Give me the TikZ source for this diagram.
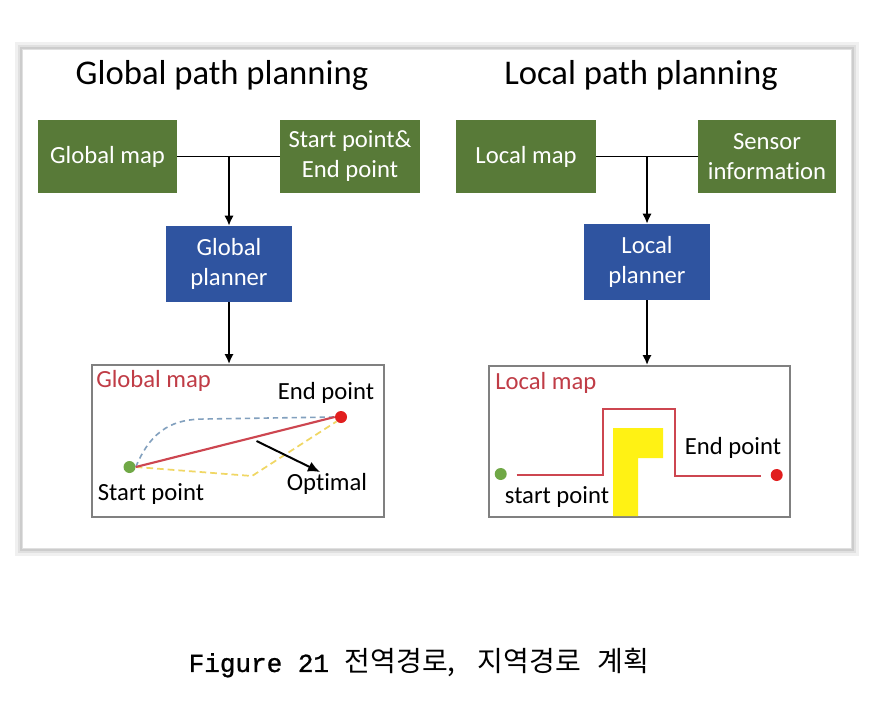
\documentclass[tikz,border=0pt]{standalone}
\usepackage{fontspec}
\setmainfont{Carlito}[Ligatures={NoCommon}]
\newfontfamily\capmono{Liberation Mono}[FakeBold=1]
\newfontfamily\cjkfont{Noto Sans CJK KR}
\usetikzlibrary{arrows.meta}
\definecolor{boxgreen}{RGB}{88,122,56}
\definecolor{boxblue}{RGB}{47,84,160}
\definecolor{maplabel}{RGB}{192,60,70}
\definecolor{pathred}{RGB}{205,70,80}
\definecolor{dotgreen}{RGB}{112,168,70}
\definecolor{dotred}{RGB}{225,30,30}
\definecolor{dashblue}{RGB}{130,160,190}
\definecolor{dashyellow}{RGB}{240,215,100}
\definecolor{obstacle}{RGB}{255,242,20}
\begin{document}
\begin{tikzpicture}[x=0.75pt,y=-0.75pt,
  boxtext/.style={font=\fontsize{18.5}{22.5}\selectfont},
  inbox/.style={boxtext, fill=boxgreen, text=white, align=center, inner sep=0pt, minimum height=73*0.75pt},
  planbox/.style={boxtext, fill=boxblue, text=white, align=center, inner sep=0pt, minimum width=126*0.75pt, minimum height=76*0.75pt},
  mapbox/.style={draw=black!50, line width=1.5pt, fill=white, inner sep=0pt},
  title/.style={font=\fontsize{26}{30}\selectfont},
  lbl/.style={boxtext, inner sep=0pt},
  conn/.style={line width=1.4pt, black},
  arr/.style={conn, -{Latex[length=7.5pt,width=7pt]}},
  dot/.style={circle, inner sep=0pt, minimum size=9pt},
]
\useasboundingbox (0,0) rectangle (880,710);
\fill[white] (0,0) rectangle (880,710);
% outer frame with soft shadow
\draw[black!6, line width=9pt] (21,48) rectangle (853,550);
\draw[black!12, line width=5pt] (21,48) rectangle (853,550);
\draw[black!20, line width=2pt] (21,48) rectangle (853,550);
\fill[white] (23,50) rectangle (851,548);

% titles
\node[title] (gtitle) at (222,75) {Global path planning};
\node[title] (ltitle) at (641,75) {Local path planning};

% top boxes
\node[inbox, minimum width=139*0.75pt] (gmap) at (107.5,156.5) {Global map};
\node[inbox, minimum width=140*0.75pt] (sepnt) at (350,156.5) {Start point\&\\End point};
\node[inbox, minimum width=140*0.75pt] (lmap) at (526,156.5) {Local map};
\node[inbox, minimum width=138*0.75pt] (sensor) at (767,156.5) {Sensor\\information};

% planners
\node[planbox] (gplan) at (229,264) {Global\\planner};
\node[planbox] (lplan) at (647,262) {Local\\planner};

% map boxes
\node[mapbox, minimum width=292*0.75pt, minimum height=152*0.75pt] (gbox) at (238,441) {};
\node[mapbox, minimum width=301*0.75pt, minimum height=151*0.75pt] (lbox) at (639.5,441.5) {};

% connectors
\coordinate (gj) at (gplan.north |- gmap.east);
\coordinate (lj) at (lplan.north |- lmap.east);
\draw[conn] (gmap.east) -- (sepnt.west);
\draw[arr] (gj) -- (gplan.north);
\draw[arr] (gplan.south) -- (gplan.south |- gbox.north);
\draw[conn] (lmap.east) -- (sensor.west);
\draw[arr] (lj) -- (lplan.north);
\draw[arr] (lplan.south) -- (lplan.south |- lbox.north);

% ---- global map content
\node[lbl, text=maplabel, anchor=west] (glabel) at (96,381) {Global map};
\node[dot, fill=dotred] (gend) at (341,417) {};
\node[dot, fill=dotgreen] (gstart) at (129.5,467) {};
\node[lbl] (gendt) at (326,393) {End point};
\node[lbl] (gstartt) at (151,494) {Start point};
\node[lbl] (gopt) at (327,484) {Optimal};
\coordinate (bl1) at (152,428);
\coordinate (bl2) at (175,419);
\coordinate (bl3) at (205,419);
\coordinate (yl1) at (252,476);
\draw[dashblue, line width=1.2pt, dash pattern=on 4pt off 3pt]
  (gstart.east) .. controls (bl1) and (bl2) .. (bl3) -- (gend.west);
\draw[dashyellow, line width=1.3pt, dash pattern=on 5pt off 3pt]
  (gstart.east) -- (yl1) -- (gend.south west);
\draw[pathred, line width=1.6pt] (gstart.east) -- (gend.west);
\coordinate (oa) at (256.5,441);
\coordinate (ob) at (320,472);
\draw[line width=1.5pt, -{Latex[length=9pt,width=8pt]}] (oa) -- (ob);

% ---- local map content
\fill[obstacle] (613,428) -- (663,428) -- (663,458) -- (638,458) -- (638,516) -- (613,516) -- cycle;
\node[lbl, text=maplabel, anchor=west] (llabel) at (495,383) {Local map};
\node[dot, fill=dotgreen] (lstart) at (500.7,474) {};
\node[dot, fill=dotred] (lend) at (776.7,475) {};
\coordinate (p1) at (516.7,475);
\coordinate (p2) at (603,475);
\coordinate (p3) at (603,409);
\coordinate (p4) at (675,409);
\coordinate (p5) at (675,476);
\coordinate (p6) at (761,476);
\draw[pathred, line width=1.1pt] (p1) -- (p2) -- (p3) -- (p4) -- (p5) -- (p6);
\node[lbl] (lendt) at (733,448) {End point};
\node[lbl] (lstartt) at (557,497) {start point};

% caption
\node[inner sep=0pt] (cap) at (419,663) {{\capmono\fontsize{19.5}{24}\selectfont Figure 21 }{\cjkfont\fontsize{21}{25}\selectfont 전역경로,\hspace{0.8em}지역경로\hspace{0.6em}계획}};
\end{tikzpicture}
\end{document}
